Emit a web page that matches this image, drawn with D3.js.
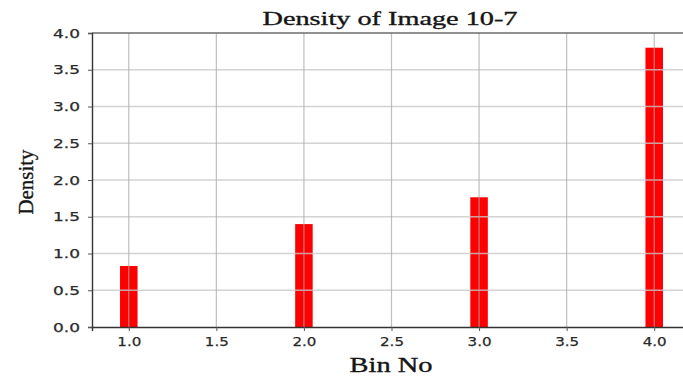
<!DOCTYPE html>
<html>
<head>
<meta charset="utf-8">
<script src="https://cdn.jsdelivr.net/npm/d3@7"></script>
<style>
	body { margin: 0; background: #fff; }
	svg { display: block; }
	.tick text { font-family: "DejaVu Sans", sans-serif; font-size: 13px; fill: #2a2a2a; stroke: #2a2a2a; stroke-width: 0.25px; }
	.label { font-family: "Liberation Serif", "DejaVu Serif", serif; fill: #151515; stroke: #151515; stroke-width: 0.35px; }
</style>
</head>
<body>
<div id="chart"></div>
<script>
// values
const bins = [1, 2, 3, 4];
const density = [0.83, 1.40, 1.765, 3.80];
const xTicks = [1.0, 1.5, 2.0, 2.5, 3.0, 3.5, 4.0];
const yTicks = [0.0, 0.5, 1.0, 1.5, 2.0, 2.5, 3.0, 3.5, 4.0];
const barWidth = 0.1;

const width = 683, height = 378;
const margin = { top: 33, right: -8, bottom: 51, left: 92 };
const innerW = width - margin.left - margin.right;
const innerH = height - margin.top - margin.bottom;

const svg = d3.select("#chart")
	.append("svg")
	.attr("width", width)
	.attr("height", height);

const g = svg.append("g")
	.attr("transform", "translate(" + margin.left + "," + margin.top + ")");

const x = d3.scaleLinear()
	.domain([0.79, 4.21])
	.range([0, innerW]);
const y = d3.scaleLinear()
	.domain([0, 4])
	.range([innerH, 0]);

// Bars
g.selectAll(".bar")
	.data(bins.map((b, i) => ({ bin: b, value: density[i] })))
	.enter()
	.append("rect")
	.classed("bar", true)
	.attr("x", d => x(d.bin - barWidth / 2))
	.attr("width", d => x(d.bin + barWidth / 2) - x(d.bin - barWidth / 2))
	.attr("y", d => y(d.value))
	.attr("height", d => innerH - y(d.value))
	.attr("fill", "#ff0000");

// Grid (drawn over the bars, like the picture)
g.append("g")
	.selectAll("line")
	.data(yTicks.slice(1))
	.enter()
	.append("line")
	.attr("x1", 0)
	.attr("x2", innerW)
	.attr("y1", d => y(d))
	.attr("y2", d => y(d))
	.attr("stroke", "#c8c8c8")
	.attr("stroke-opacity", 0.8)
	.attr("stroke-width", 1.6);
g.append("g")
	.selectAll("line")
	.data(xTicks)
	.enter()
	.append("line")
	.attr("x1", d => x(d))
	.attr("x2", d => x(d))
	.attr("y1", 0)
	.attr("y2", innerH)
	.attr("stroke", "#a8a8a8")
	.attr("stroke-opacity", 0.75)
	.attr("stroke-width", 1.2);

// X axis
const xAxis = d3.axisBottom(x)
	.tickValues(xTicks)
	.tickFormat(d3.format(".1f"))
	.tickSizeOuter(0)
	.tickSize(4)
	.tickPadding(6);
const xg = g.append("g")
	.attr("transform", "translate(0," + innerH + ")")
	.call(xAxis);
xg.select(".domain").attr("stroke", "#333").attr("stroke-width", 1.4);
xg.selectAll(".tick line").attr("stroke", "#555");
xg.selectAll(".tick text").attr("textLength", 24).attr("lengthAdjust", "spacingAndGlyphs");

// Y axis
const yAxis = d3.axisLeft(y)
	.tickValues(yTicks)
	.tickFormat(d3.format(".1f"))
	.tickSizeOuter(0)
	.tickSize(4)
	.tickPadding(8);
const yg = g.append("g").call(yAxis);
yg.select(".domain").attr("stroke", "#333").attr("stroke-width", 1.4);
yg.selectAll(".tick line").attr("stroke", "#555");
yg.selectAll(".tick text").attr("textLength", 27).attr("lengthAdjust", "spacingAndGlyphs");

// top spine
g.append("line")
	.attr("x1", 0)
	.attr("x2", innerW)
	.attr("y1", 0)
	.attr("y2", 0)
	.attr("stroke", "#444")
	.attr("stroke-width", 1.2);

// Title
svg.append("text")
	.classed("label", true)
	.attr("x", 390)
	.attr("y", 25)
	.attr("text-anchor", "middle")
	.attr("font-size", 19)
	.attr("textLength", 255)
	.attr("lengthAdjust", "spacingAndGlyphs")
	.text("Density of Image 10-7");

// Axis labels
svg.append("text")
	.classed("label", true)
	.attr("x", 391)
	.attr("y", 372)
	.attr("text-anchor", "middle")
	.attr("font-size", 21)
	.attr("textLength", 83)
	.attr("lengthAdjust", "spacingAndGlyphs")
	.text("Bin No");

svg.append("text")
	.classed("label", true)
	.attr("transform", "translate(33,182) rotate(-90)")
	.attr("text-anchor", "middle")
	.attr("font-size", 22)
	.attr("textLength", 65)
	.attr("lengthAdjust", "spacingAndGlyphs")
	.text("Density");
</script>
</body>
</html>
